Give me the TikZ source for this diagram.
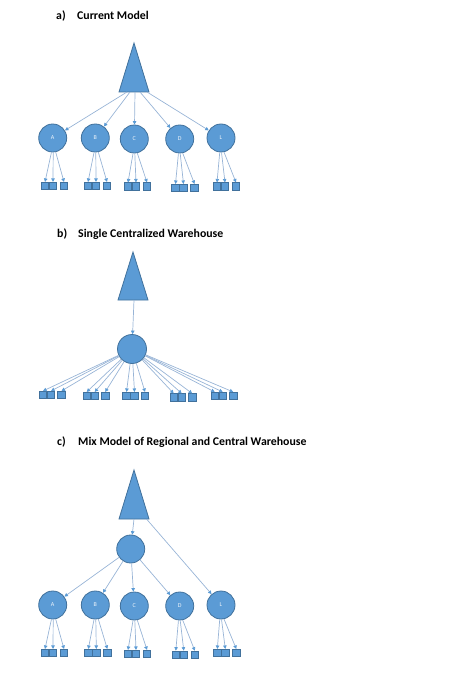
\documentclass[tikz,border=0pt]{standalone}
\usepackage{fontspec}
\setmainfont{Carlito}
\usetikzlibrary{arrows.meta}
\definecolor{fillblue}{HTML}{5B9BD5}
\definecolor{edgeblue}{HTML}{41719C}
\definecolor{linkblue}{HTML}{98B4D6}
\begin{document}
\begin{tikzpicture}[x=1pt,y=-1pt,
  wh/.style={circle,fill=fillblue,draw=edgeblue,line width=0.8pt,minimum size=28pt,inner sep=0pt,font=\fontsize{6}{6}\selectfont,text=white!90!fillblue},
  sq/.style={rectangle,fill=fillblue,draw=edgeblue,line width=0.6pt,minimum width=7.5pt,minimum height=7.5pt,inner sep=0pt},
  link/.style={draw=linkblue,line width=0.7pt,-{Triangle[length=3.5pt,width=3.5pt,fill=fillblue,color=fillblue]}},
  tri/.style={fill=fillblue,draw=edgeblue,line width=0.8pt},
  title/.style={anchor=base west,inner sep=0pt,font=\fontsize{11.8}{13}\selectfont\bfseries}]
\useasboundingbox (0,0) rectangle (474,700);

% ---------- a) ----------
\node[title] (ta1) at (56,20) {a)};
\node[title] (ta2) at (77,20) {Current Model};
\draw[tri] (134,43) -- (149,92) -- (119,92) -- cycle;
\coordinate (aTA) at (127,92);
\coordinate (aTB) at (130,92);
\coordinate (aTC) at (135,92);
\coordinate (aTD) at (140,92);
\coordinate (aTL) at (147,92);
\foreach \n/\x/\y in {A/52.7/138, B/95.3/138, C/134.3/139, D/179.7/139, L/221/138}
  \node[wh] (a\n) at (\x,\y) {\n};
\foreach \n in {A,B,C,D,L}
  \draw[link] (aT\n) -- (a\n);
\foreach \n/\x/\y in {A/53/186, B/96/186, C/136/186.5, D/183.5/188, L/225/186.5} {
  \node[sq] (a\n1) at (\x-8,\y) {};
  \node[sq] (a\n2) at (\x,\y) {};
  \node[sq] (a\n3) at (\x+11,\y) {};
  \draw[link] (a\n.265) -- (a\n1.north);
  \draw[link] (a\n.272) -- (a\n2.north);
  \draw[link] (a\n.282) -- (a\n3.north);
}

% ---------- b) ----------
\node[title] (tb1) at (57,237) {b)};
\node[title] (tb2) at (78,237) {Single Centralized Warehouse};
\draw[tri] (133,252) -- (148,300) -- (118,300) -- cycle;
\coordinate (bT) at (134,300);
\node[wh,minimum size=29pt] (bhub) at (132,349) {};
\draw[link] (bT) -- (bhub);
\foreach \n/\x/\y in {A/51/395, B/94.7/396, C/134.5/396, D/181.7/397.5, L/222.7/396} {
  \node[sq] (b\n1) at (\x-8,\y) {};
  \node[sq] (b\n2) at (\x,\y) {};
  \node[sq] (b\n3) at (\x+10.5,\y) {};
  \draw[link] (bhub) -- (b\n1.north);
  \draw[link] (bhub) -- (b\n2.north);
  \draw[link] (bhub) -- (b\n3.north);
}

% ---------- c) ----------
\node[title] (tc1) at (57,445) {c)};
\node[title] (tc2) at (78,445) {Mix Model of Regional and Central Warehouse};
\draw[tri] (134,470) -- (149,519) -- (119,519) -- cycle;
\coordinate (cT1) at (134,519);
\coordinate (cT2) at (146.5,519);
\node[wh] (chub) at (130.7,549) {};
\draw[link] (cT1) -- (chub);
\foreach \n/\x/\y in {A/52.7/605, B/95.3/605, C/134.3/606, D/179.7/606, L/221/605}
  \node[wh] (c\n) at (\x,\y) {\n};
\draw[link] (cT2) -- (cL);
\foreach \n in {A,B,C,D}
  \draw[link] (chub) -- (c\n);
\foreach \n/\x/\y in {A/53/653, B/96.3/653, C/136/654, D/183.8/654.7, L/225.3/653} {
  \node[sq] (c\n1) at (\x-8,\y) {};
  \node[sq] (c\n2) at (\x,\y) {};
  \node[sq] (c\n3) at (\x+11,\y) {};
  \draw[link] (c\n.265) -- (c\n1.north);
  \draw[link] (c\n.272) -- (c\n2.north);
  \draw[link] (c\n.282) -- (c\n3.north);
}
\end{tikzpicture}
\end{document}
